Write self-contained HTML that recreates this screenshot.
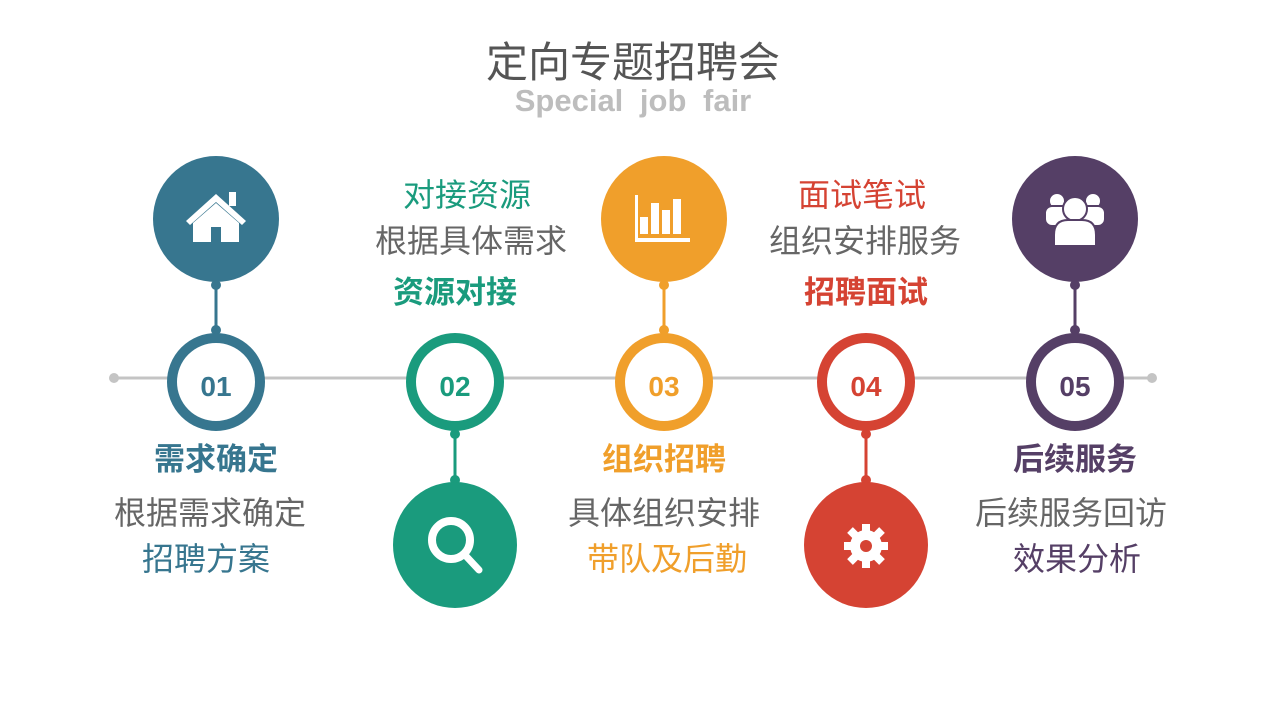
<!DOCTYPE html>
<html><head><meta charset="utf-8"><style>
html,body{margin:0;padding:0;background:#fff;width:1267px;height:713px;overflow:hidden}
svg{display:block}
text{font-family:"Liberation Sans","Noto Sans CJK SC",sans-serif;text-anchor:middle}
.b{font-weight:bold}
</style></head><body>
<svg width="1267" height="713" viewBox="0 0 1267 713" xmlns="http://www.w3.org/2000/svg">
<text x="633" y="77" font-size="42" fill="#555">定向专题招聘会</text>
<text x="633" y="111" font-size="31" class="b" fill="#bdbdbd" word-spacing="8">Special job fair</text>

<line x1="114" y1="378" x2="1152" y2="378" stroke="#c4c4c4" stroke-width="3"/>
<circle cx="114" cy="378" r="5" fill="#c4c4c4"/>
<circle cx="1152" cy="378" r="5" fill="#c4c4c4"/>

<!-- 1 -->
<g fill="#37768f" stroke="#37768f">
<line x1="216" y1="282" x2="216" y2="330" stroke-width="3"/>
<circle cx="216" cy="285" r="5" stroke="none"/><circle cx="216" cy="330" r="5" stroke="none"/>
<ellipse cx="216" cy="219" rx="63" ry="63" stroke="none"/>
<circle cx="216" cy="382" r="44" fill="#fff" stroke-width="10"/>
</g>
<g fill="#fff"><path d="M186 221 L216 194 L246 221 L242 225 L216 202 L190 225Z"/><rect x="229" y="192" width="7" height="14"/><path d="M193 223 L216 203 L239 223 L239 242 L221 242 L221 227 L211 227 L211 242 L193 242Z"/></g>
<text x="216" y="396" font-size="28" class="b" fill="#37768f">01</text>

<!-- 2 -->
<g fill="#1a9b7d" stroke="#1a9b7d">
<line x1="455" y1="434" x2="455" y2="480" stroke-width="3"/>
<circle cx="455" cy="434" r="5" stroke="none"/><circle cx="455" cy="480" r="5" stroke="none"/>
<ellipse cx="455" cy="545" rx="62" ry="63" stroke="none"/>
<circle cx="455" cy="382" r="44" fill="#fff" stroke-width="10"/>
</g>
<circle cx="451" cy="540" r="19" fill="none" stroke="#fff" stroke-width="8"/>
<line x1="465" y1="555" x2="479" y2="570" stroke="#fff" stroke-width="7" stroke-linecap="round"/>
<text x="455" y="396" font-size="28" class="b" fill="#1a9b7d">02</text>

<!-- 3 -->
<g fill="#f09f2b" stroke="#f09f2b">
<line x1="664" y1="285" x2="664" y2="330" stroke-width="3"/>
<circle cx="664" cy="285" r="5" stroke="none"/><circle cx="664" cy="330" r="5" stroke="none"/>
<ellipse cx="664" cy="219" rx="63" ry="63" stroke="none"/>
<circle cx="664" cy="382" r="44" fill="#fff" stroke-width="10"/>
</g>
<g fill="#fff"><rect x="635" y="195" width="3" height="46"/><rect x="635" y="238" width="55" height="4"/><rect x="640" y="217" width="8" height="17"/><rect x="651" y="203" width="8" height="31"/><rect x="662" y="210" width="8" height="24"/><rect x="673" y="199" width="8" height="35"/></g>
<text x="664" y="396" font-size="28" class="b" fill="#f09f2b">03</text>

<!-- 4 -->
<g fill="#d54333" stroke="#d54333">
<line x1="866" y1="434" x2="866" y2="480" stroke-width="3"/>
<circle cx="866" cy="434" r="5" stroke="none"/><circle cx="866" cy="480" r="5" stroke="none"/>
<ellipse cx="866" cy="545" rx="62" ry="63" stroke="none"/>
<circle cx="866" cy="382" r="44" fill="#fff" stroke-width="10"/>
</g>
<g fill="#fff"><circle cx="866" cy="546" r="16"/>
<g stroke="#fff" stroke-width="8"><line x1="866" y1="524" x2="866" y2="568"/><line x1="844" y1="546" x2="888" y2="546"/><line x1="850" y1="530" x2="882" y2="562"/><line x1="882" y1="530" x2="850" y2="562"/></g>
<circle cx="866" cy="546" r="6" fill="#d54333"/></g>
<text x="866" y="396" font-size="28" class="b" fill="#d54333">04</text>

<!-- 5 -->
<g fill="#553f66" stroke="#553f66">
<line x1="1075" y1="285" x2="1075" y2="330" stroke-width="3"/>
<circle cx="1075" cy="285" r="5" stroke="none"/><circle cx="1075" cy="330" r="5" stroke="none"/>
<ellipse cx="1075" cy="219" rx="63" ry="63" stroke="none"/>
<circle cx="1075" cy="382" r="44" fill="#fff" stroke-width="10"/>
</g>
<g fill="#fff" stroke="#553f66" stroke-width="2">
<circle cx="1057" cy="201" r="8"/><circle cx="1093" cy="201" r="8"/>
<rect x="1045" y="206" width="24" height="20" rx="7"/><rect x="1081" y="206" width="24" height="20" rx="7"/>
<circle cx="1075" cy="209" r="12"/>
<path d="M1054 246 L1054 235 Q1054 220 1068 220 L1082 220 Q1096 220 1096 235 L1096 246 Z"/>
</g>
<text x="1075" y="396" font-size="28" class="b" fill="#553f66">05</text>

<!-- texts -->
<text x="216" y="470" font-size="31" class="b" fill="#37768f">需求确定</text>
<text x="210" y="524" font-size="32" fill="#666">根据需求确定</text>
<text x="206" y="570" font-size="32" fill="#37768f">招聘方案</text>

<text x="467" y="206" font-size="32" fill="#1a9b7d">对接资源</text>
<text x="471" y="252" font-size="32" fill="#666">根据具体需求</text>
<text x="455" y="303" font-size="31" class="b" fill="#1a9b7d">资源对接</text>

<text x="664" y="470" font-size="31" class="b" fill="#f09f2b">组织招聘</text>
<text x="664" y="524" font-size="32" fill="#666">具体组织安排</text>
<text x="667" y="570" font-size="32" fill="#f09f2b">带队及后勤</text>

<text x="862" y="206" font-size="32" fill="#d54333">面试笔试</text>
<text x="865" y="252" font-size="32" fill="#666">组织安排服务</text>
<text x="866" y="303" font-size="31" class="b" fill="#d54333">招聘面试</text>

<text x="1075" y="470" font-size="31" class="b" fill="#553f66">后续服务</text>
<text x="1071" y="524" font-size="32" fill="#666">后续服务回访</text>
<text x="1077" y="570" font-size="32" fill="#553f66">效果分析</text>
</svg>
</body></html>
